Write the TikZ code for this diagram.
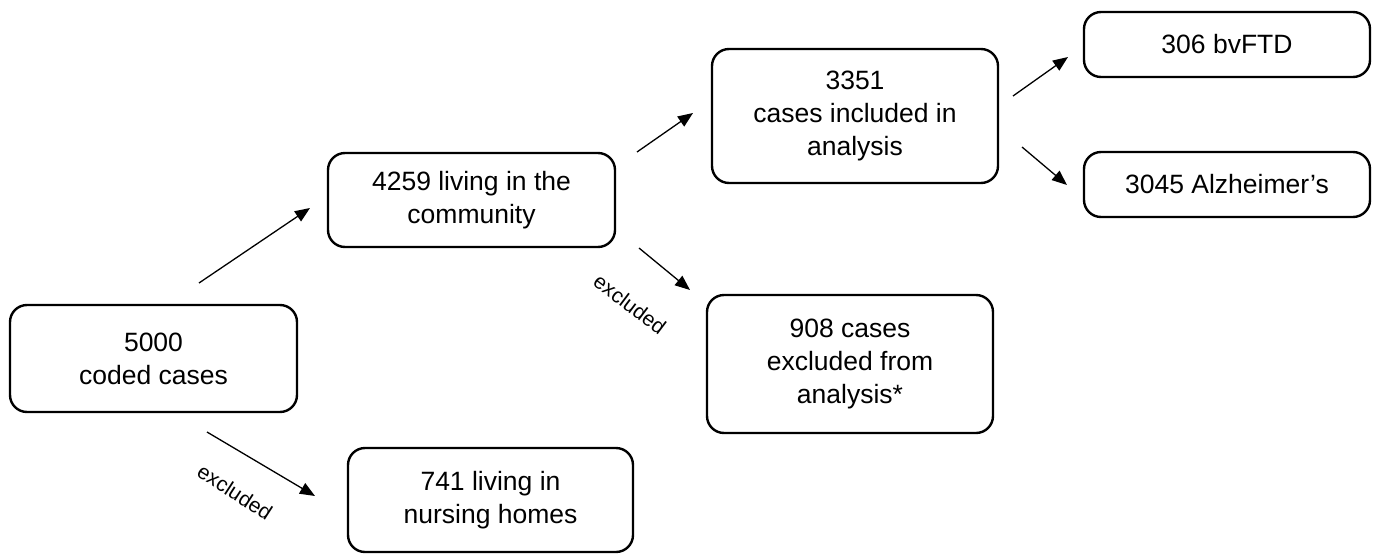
\documentclass[tikz,border=0pt]{standalone}
\usepackage{fontspec}
\setmainfont{Liberation Sans}
\usetikzlibrary{arrows.meta}
\tikzset{
  box/.style={draw, line width=2.4pt, rounded corners=17pt, align=center, inner sep=0pt,
    font=\fontsize{26.5}{33}\selectfont},
  conn/.style={line width=1.3pt, -{Triangle[length=15pt,width=12pt]}},
  exlabel/.style={font=\fontsize{21}{24}\selectfont, inner sep=0pt}
}
\begin{document}
\begin{tikzpicture}[x=1pt,y=-1pt]
\useasboundingbox (0,0) rectangle (1373,554);
% boxes
\node[box, minimum width=287pt, minimum height=107pt] (A) at (153.5,358.5) {5000\\coded cases};
\node[box, minimum width=287pt, minimum height=94pt] (B) at (471.5,200) {4259 living in the\\community};
\node[box, minimum width=285pt, minimum height=104pt] (C) at (490.5,500) {741 living in\\nursing homes};
\node[box, minimum width=286pt, minimum height=134pt] (D) at (855,116) {3351\\cases included in\\analysis};
\node[box, minimum width=286pt, minimum height=138pt] (E) at (850,364) {908 cases\\excluded from\\analysis*};
\node[box, minimum width=286pt, minimum height=65pt] (F) at (1227,44.5) {306 bvFTD};
\node[box, minimum width=286pt, minimum height=65pt] (G) at (1227,184.5) {3045 Alzheimer’s};
% arrow end points
\coordinate (ab1) at (199,283); \coordinate (ab2) at (310,208);
\coordinate (ac1) at (207,432); \coordinate (ac2) at (315,496);
\coordinate (bd1) at (637,152); \coordinate (bd2) at (693,113);
\coordinate (be1) at (639,248); \coordinate (be2) at (690,290);
\coordinate (df1) at (1013,96); \coordinate (df2) at (1068,57);
\coordinate (dg1) at (1022,147); \coordinate (dg2) at (1067,185);
\draw[conn] (ab1) -- (ab2);
\draw[conn] (ac1) -- (ac2);
\draw[conn] (bd1) -- (bd2);
\draw[conn] (be1) -- (be2);
\draw[conn] (df1) -- (df2);
\draw[conn] (dg1) -- (dg2);
% labels
\node[exlabel, rotate=-33] (l1) at (235,492) {excluded};
\node[exlabel, rotate=-37] (l2) at (630,304) {excluded};
\end{tikzpicture}
\end{document}
